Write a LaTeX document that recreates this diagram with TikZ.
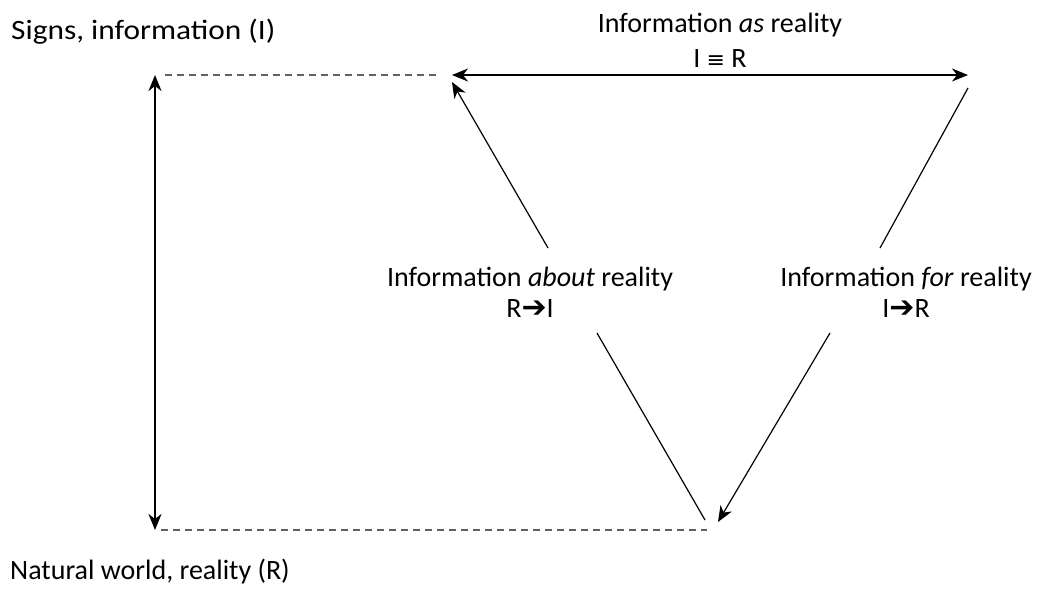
\documentclass[tikz,border=0pt]{standalone}
\usepackage{fontspec}
\setmainfont{Carlito}
\newfontfamily\symfont{DejaVu Sans}
\usetikzlibrary{arrows.meta}

\begin{document}
\begin{tikzpicture}[x=1pt,y=-1pt,
	lbl/.style={font=\fontsize{28}{31}\selectfont, align=center, inner sep=0pt},
	dashln/.style={draw=gray!75!black, line width=1.4pt, dash pattern=on 7pt off 5pt},
	tip/.tip={Stealth[length=16pt,width=13pt,inset=5pt]},
	arr/.style={-tip, line width=1.2pt},
	thin/.style={line width=1.2pt}]
	\useasboundingbox (0,0) rectangle (1044,592);
	
	% corners
	\coordinate (sigtop) at (155,75);
	\coordinate (natbot) at (155,530);
	\coordinate (dashtop) at (437,75);
	\coordinate (dashbot) at (707,530);
	\coordinate (asL) at (452,75);
	\coordinate (asR) at (968,75);
	\coordinate (aboutend) at (452,82);
	\coordinate (aboutbeg) at (548,248);
	\coordinate (forbeg) at (880,248);
	\coordinate (forend) at (968,88);
	\coordinate (botL) at (597,333);
	\coordinate (botLend) at (705,520);
	\coordinate (botR) at (830,333);
	\coordinate (botRend) at (718,522);
	
	% labels
	\node[lbl, anchor=west, xscale=1.12, transform shape] (signs) at (11,32) {Signs, information (I)};
	\node[lbl, anchor=west] (natural) at (10,572) {Natural world, reality (R)};
	\node[lbl] (as) at (720,40) {Information \textit{as} reality\\[4pt]I {\symfont\fontsize{22}{26}\selectfont≡} R};
	\node[lbl] (about) at (530,292) {Information \textit{about} reality\\R{\symfont\bfseries\fontsize{30}{26}\selectfont➔}I};
	\node[lbl] (for) at (906,292) {Information \textit{for} reality\\I{\symfont\bfseries\fontsize{30}{26}\selectfont➔}R};
	
	% levels
	\draw[tip-tip, line width=2.2pt] (sigtop) -- (natbot);
	\draw[dashln] ([xshift=10pt]sigtop) -- (dashtop);
	\draw[dashln] ([xshift=6pt]natbot) -- (dashbot);
	
	% triangle
	\draw[tip-tip, line width=1.3pt] (asL) -- (asR);
	\draw[arr] (aboutbeg) -- (aboutend);
	\draw[thin] (forbeg) -- (forend);
	\draw[thin] (botL) -- (botLend);
	\draw[arr] (botR) -- (botRend);
\end{tikzpicture}
\end{document}
